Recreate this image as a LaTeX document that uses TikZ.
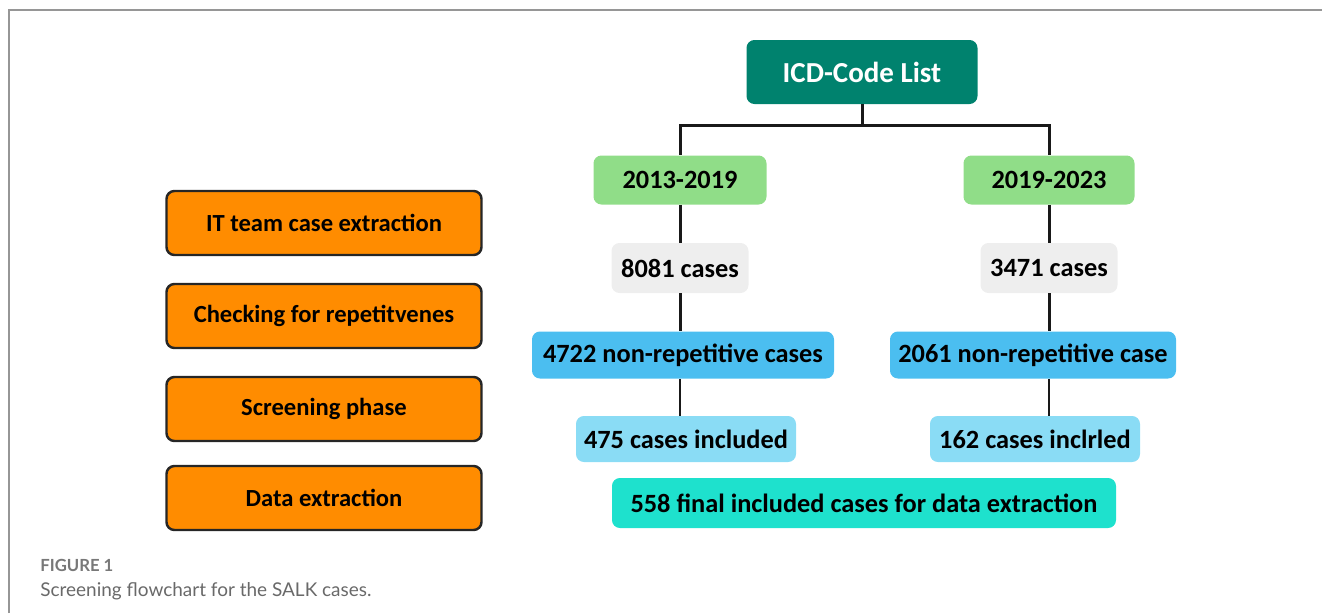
\documentclass[tikz,border=0pt]{standalone}
\usepackage{fontspec}
\setmainfont{Carlito}
\newfontfamily\capfont{Lato}
\usepackage{tikz}
\usetikzlibrary{positioning}
\definecolor{icdgreen}{RGB}{0,130,110}
\definecolor{yeargreen}{RGB}{144,221,136}
\definecolor{casegray}{RGB}{238,238,238}
\definecolor{nonrepblue}{RGB}{75,190,240}
\definecolor{inclblue}{RGB}{138,220,245}
\definecolor{finalcyan}{RGB}{30,225,205}
\definecolor{phaseorange}{RGB}{255,140,0}
\definecolor{captiongray}{RGB}{105,105,105}

\begin{document}
\begin{tikzpicture}[x=0.02cm,y=-0.02cm]

\tikzset{box/.style={rounded corners=4.5pt, inner sep=0pt, align=center,
    font=\bfseries\fontsize{15}{18}\selectfont},
  phase/.style={box, draw=black!85, line width=1.4pt, fill=phaseorange,
    minimum width=315*0.02cm, minimum height=64*0.02cm,
    font=\bfseries\fontsize{14}{17}\selectfont},
  link/.style={black!90, line width=1.7pt},
  thin link/.style={black!90, line width=0.8pt}
}

\useasboundingbox (0,0) rectangle (1322,613);
\draw[captiongray!70, line width=0.9pt] (9,613) -- (9,10) -- (1322,10);

% left column: phases
\node[phase] (extract) at (324,223) {IT team case extraction};
\node[phase] (repeat) at (324,316) {Checking for repetitvenes};
\node[phase] (screen) at (324,409) {Screening phase};
\node[phase] (data) at (324,498) {Data extraction};

% flowchart
\node[box, fill=icdgreen, text=white, minimum width=231*0.02cm, minimum height=64*0.02cm,
  font=\fontsize{16.5}{20}\selectfont\bfseries] (icd) at (862,72) {ICD-Code List};

\node[box, fill=yeargreen, minimum width=173*0.02cm, minimum height=49*0.02cm] (early) at (680,180) {2013-2019};
\node[box, fill=yeargreen, minimum width=171*0.02cm, minimum height=49*0.02cm] (late) at (1049,180) {2019-2023};

\node[box, fill=casegray, minimum width=137*0.02cm, minimum height=50*0.02cm] (earlyall) at (680,268) {8081 cases};
\node[box, fill=casegray, minimum width=137*0.02cm, minimum height=50*0.02cm] (lateall) at (1049,268) {3471 cases};

\node[box, fill=nonrepblue, minimum width=302*0.02cm, minimum height=47*0.02cm] (earlynr) at (683,355) {4722 non-repetitive cases};
\node[box, fill=nonrepblue, minimum width=286*0.02cm, minimum height=47*0.02cm] (latenr) at (1033,355) {2061 non-repetitive case};

\node[box, fill=inclblue, minimum width=220*0.02cm, minimum height=46*0.02cm] (earlyin) at (686,439) {475 cases included};
\node[box, fill=inclblue, minimum width=210*0.02cm, minimum height=46*0.02cm] (latein) at (1035,439) {162 cases inclrled};

\node[box, fill=finalcyan, minimum width=504*0.02cm, minimum height=50*0.02cm] (final) at (864,503) {558 final included cases for data extraction};

% connectors
\coordinate (split) at (862,125);
\draw[link] (icd.south) -- (split);
\draw[link] (split) -| (early.north);
\draw[link] (split) -| (late.north);
\draw[link] (early.south) -- (earlyall.north);
\draw[link] (late.south) -- (lateall.north);
\draw[link] (earlyall.south) -- (earlyall.south |- earlynr.north);
\draw[link] (lateall.south) -- (lateall.south |- latenr.north);
\draw[thin link] (earlyall.south |- earlynr.south) -- (earlyall.south |- earlyin.north);
\draw[thin link] (lateall.south |- latenr.south) -- (lateall.south |- latein.north);

% caption
\node[anchor=base west, inner sep=0pt, text=captiongray!90, font=\capfont\bfseries\fontsize{9.5}{11}\selectfont] (figno) at (40,571) {FIGURE 1};
\node[anchor=base west, inner sep=0pt, text=captiongray, font=\capfont\fontsize{10.8}{13}\selectfont] (caption) at (40,596) {Screening flowchart for the SALK cases.};

\end{tikzpicture}
\end{document}
